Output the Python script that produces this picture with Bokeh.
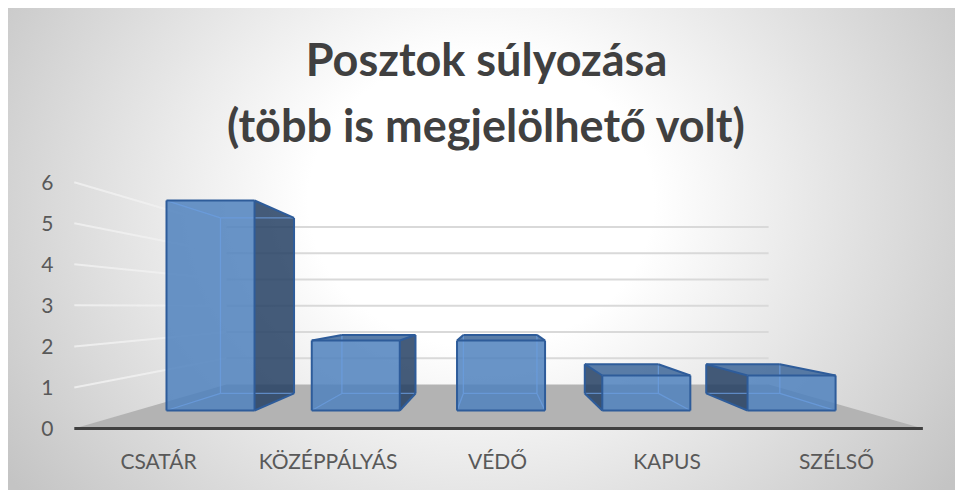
from bokeh.plotting import figure
from bokeh.models import Range1d, LinearAxis, FixedTicker, Label
from bokeh.embed import file_html
from bokeh.resources import INLINE

# ---------------- data ----------------
categories = ["CSATÁR", "KÖZÉPPÁLYÁS", "VÉDŐ", "KAPUS", "SZÉLSŐ"]
values = [6, 2, 2, 1, 1]
y_ticks = [0, 1, 2, 3, 4, 5, 6]
title_lines = ["Posztok súlyozása", "(több is megjelölhető volt)"]

# ---------------- layout / style (pixels) ----------------
W, H = 957, 490
FL, FR, FT, FB = 62, 957, 0, 440           # frame edges in pixels
X0_PX, X_STEP = 160.7, 170.4               # category spacing on the front plane
LAB0_PX, LAB_STEP = 158.0, 169.5           # category label spacing
Y0_PX, Y_STEP = 428.0, 41.05               # value scale on the front plane
VP_PX = (495.0, 306.0)                     # vanishing point
S_FRONT = 0.8525                           # depth scale of bar fronts
S_BACK = 0.8525 * 0.836                    # depth scale of bar backs
S_WALL = 0.639                             # depth scale of back wall
BAR_HALF = 0.303                           # half bar width (category units)
PAD_L, PAD_R = 0.51, 0.47                  # floor overhang (category units)

x_range = Range1d((FL - X0_PX) / X_STEP, (FR - X0_PX) / X_STEP)
y_range = Range1d((Y0_PX - FB) / Y_STEP, (Y0_PX - FT) / Y_STEP)

p = figure(width=W, height=H, x_range=x_range, y_range=y_range,
           x_axis_type=None, y_axis_type=None,
           min_border_left=FL, min_border_right=W - FR,
           min_border_top=FT, min_border_bottom=H - FB,
           output_backend="svg", toolbar_location=None)
p.extra_x_ranges = {"lab": Range1d((FL - LAB0_PX) / LAB_STEP, (FR - LAB0_PX) / LAB_STEP)}
p.grid.visible = False
p.outline_line_color = None
p.background_fill_alpha = 0
p.border_fill_alpha = 0
p.styles = {
    "background": "radial-gradient(575px 486px at 473px 193px, #ffffff 0%, #ffffff 30%, #c4c4c4 100%) 8px 8px / 947px 482px no-repeat, #ffffff"
}

VX = (VP_PX[0] - X0_PX) / X_STEP
VY = (Y0_PX - VP_PX[1]) / Y_STEP


def proj(x, v, s):
    return VX + s * (x - VX), VY + s * (v - VY)


n = len(categories)
XL, XR = -PAD_L, (n - 1) + PAD_R

# back wall gridlines
bx0, bx1, by = [], [], []
for t in y_ticks[1:]:
    a = proj(XL, t, S_WALL)
    b = proj(XR, t, S_WALL)
    bx0.append(a[0]); bx1.append(b[0]); by.append(a[1])
p.segment(x0=bx0, y0=by, x1=bx1, y1=by, line_color="#d9d9d9", line_width=2)

# left wall gridlines
lx0, ly0, lx1, ly1 = [], [], [], []
for t in y_ticks[1:]:
    a = proj(XL, t, 1.0)
    b = proj(XL, t, S_WALL)
    lx0.append(a[0]); ly0.append(a[1]); lx1.append(b[0]); ly1.append(b[1])
p.segment(x0=lx0, y0=ly0, x1=lx1, y1=ly1, line_color="#f0f0f0", line_width=2, line_alpha=0.9)

# floor
fc = [proj(XL, 0, 1.0), proj(XR, 0, 1.0), proj(XR, 0, S_WALL), proj(XL, 0, S_WALL)]
p.patch([c[0] for c in fc], [c[1] for c in fc], fill_color="#b3b3b3", line_color=None)
p.line([fc[0][0], fc[1][0]], [fc[0][1], fc[1][1]], line_color="#404040", line_width=3)

# bars
side_xs, side_ys, top_xs, top_ys, front_xs, front_ys = [], [], [], [], [], []
vis_xs, vis_ys, hid_xs, hid_ys = [], [], [], []
for i, v in enumerate(values):
    xl, xr = i - BAR_HALF, i + BAR_HALF
    F = {k: proj(x, y, S_FRONT) for k, (x, y) in
         {"l0": (xl, 0), "r0": (xr, 0), "r1": (xr, v), "l1": (xl, v)}.items()}
    B = {k: proj(x, y, S_BACK) for k, (x, y) in
         {"l0": (xl, 0), "r0": (xr, 0), "r1": (xr, v), "l1": (xl, v)}.items()}
    faces = {"front": [F["l0"], F["r0"], F["r1"], F["l1"]]}
    if F["r0"][0] < VX:
        faces["side"] = [F["r0"], B["r0"], B["r1"], F["r1"]]
    elif F["l0"][0] > VX:
        faces["side"] = [F["l0"], B["l0"], B["l1"], F["l1"]]
    if v < VY:
        faces["top"] = [F["l1"], F["r1"], B["r1"], B["l1"]]
    edges = []
    for P in (F, B):
        edges += [(P["l0"], P["r0"]), (P["r0"], P["r1"]), (P["r1"], P["l1"]), (P["l1"], P["l0"])]
    for k in ("l0", "r0", "r1", "l1"):
        edges.append((F[k], B[k]))
    vis = set()
    for f in faces.values():
        for a_, b_ in zip(f, f[1:] + f[:1]):
            vis.add(frozenset((a_, b_)))
    for a_, b_ in edges:
        tgt = (vis_xs, vis_ys) if frozenset((a_, b_)) in vis else (hid_xs, hid_ys)
        tgt[0].append([a_[0], b_[0]]); tgt[1].append([a_[1], b_[1]])
    if "side" in faces:
        side_xs.append([c[0] for c in faces["side"]]); side_ys.append([c[1] for c in faces["side"]])
    if "top" in faces:
        top_xs.append([c[0] for c in faces["top"]]); top_ys.append([c[1] for c in faces["top"]])
    front_xs.append([c[0] for c in faces["front"]]); front_ys.append([c[1] for c in faces["front"]])

p.patches(side_xs, side_ys, fill_color="#243f63", fill_alpha=0.85, line_color=None)
p.patches(top_xs, top_ys, fill_color="#3d6699", fill_alpha=0.85, line_color=None)
p.patches(front_xs, front_ys, fill_color="#4f81bd", fill_alpha=0.85, line_color=None)
p.multi_line(hid_xs, hid_ys, line_color="#6b9de0", line_width=1.3, line_alpha=0.75)
p.multi_line(vis_xs, vis_ys, line_color="#2e5c9a", line_width=2)

# axes
yax = LinearAxis(ticker=FixedTicker(ticks=y_ticks))
yax.axis_line_color = None
yax.major_tick_line_color = None
yax.minor_tick_line_color = None
yax.major_tick_out = 0
yax.major_label_standoff = 9
yax.major_label_text_font = "Lato"
yax.major_label_text_font_size = "21px"
yax.major_label_text_color = "#595959"
p.add_layout(yax, "left")

xax = LinearAxis(x_range_name="lab", ticker=FixedTicker(ticks=list(range(n))),
                 major_label_overrides={i: c for i, c in enumerate(categories)})
xax.axis_line_color = None
xax.major_tick_line_color = None
xax.minor_tick_line_color = None
xax.major_tick_out = 0
xax.major_label_standoff = 7
xax.major_label_text_font = "Lato"
xax.major_label_text_font_size = "21px"
xax.major_label_text_color = "#595959"
p.add_layout(xax, "below")

# title
TITLE_X_PX = 486
for line, base_px in zip(title_lines, (58, 124)):
    p.add_layout(Label(x=(TITLE_X_PX - X0_PX) / X_STEP, y=(Y0_PX - base_px) / Y_STEP,
                       text=line, text_align="center", text_baseline="alphabetic",
                       text_font="Lato", text_font_style="bold", text_font_size="45px",
                       text_color="#404040"))

open("out.html", "w").write(file_html(p, INLINE))
